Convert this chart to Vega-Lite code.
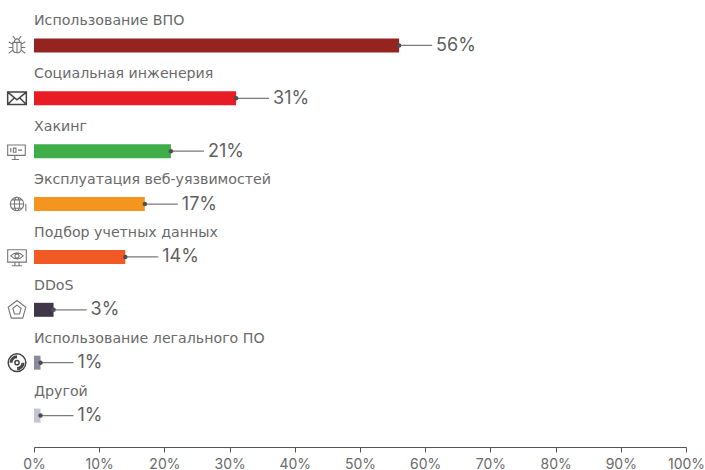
{
"$schema":"https://vega.github.io/schema/vega-lite/v6.json",
"width":652,"height":428,
"autosize":"none",
"padding":{"left":34,"top":19,"right":19,"bottom":23},
"background":"white",
"view":{"stroke":null},
"data":{"values":[
{"cat":"Использование ВПО","pct":56,"label":"56%","color":"#952420","icon":"bug"},
{"cat":"Социальная инженерия","pct":31,"label":"31%","color":"#e81c24","icon":"mail"},
{"cat":"Хакинг","pct":21,"label":"21%","color":"#3fae49","icon":"screen"},
{"cat":"Эксплуатация веб-уязвимостей","pct":17,"label":"17%","color":"#f3951f","icon":"globe"},
{"cat":"Подбор учетных данных","pct":14,"label":"14%","color":"#f15a24","icon":"eye"},
{"cat":"DDoS","pct":3,"label":"3%","color":"#40364a","icon":"penta"},
{"cat":"Использование легального ПО","pct":1,"label":"1%","color":"#8a8a9e","icon":"disc"},
{"cat":"Другой","pct":1,"label":"1%","color":"#c5c5d2","icon":"none"}
]},
"encoding":{
"y":{"field":"cat","type":"nominal","sort":null,"axis":null,"scale":{"type":"band","range":[0,423],"paddingInner":0,"paddingOuter":0}}
},
"layer":[
{"mark":{"type":"bar","height":14},
"encoding":{
"x":{"field":"pct","type":"quantitative","scale":{"domain":[0,100],"nice":false},
"axis":{"title":null,"values":[0,5,10,15,20,25,30,35,40,45,50,55,60,65,70,75,80,85,90,95,100],
"labelExpr":"datum.value%10==0?datum.value+'%':''","labelFont":"Inter","labelFontSize":14,"labelColor":"#6a6a6a","labelPadding":5,"labelBaseline":"top","tickColor":"#555555","tickSize":5,"tickWidth":1,"domainColor":"#555555","domainWidth":1,"grid":false,"labelFlush":false,
"encode":{"ticks":{"update":{"y":{"signal":"datum.value%10==0?-4:-2"},"y2":{"signal":"datum.value%10==0?4:2"}}}}}},
"color":{"field":"color","type":"nominal","scale":null}
}},
{"mark":{"type":"rule","color":"#7a7a7a","strokeWidth":1.3,"x2Offset":33},
"encoding":{"x":{"field":"pct","type":"quantitative"},"x2":{"field":"pct"}}},
{"mark":{"type":"point","filled":true,"color":"#4d4d55","size":20,"opacity":1},
"encoding":{"x":{"field":"pct","type":"quantitative"}}},
{"mark":{"type":"text","align":"left","baseline":"middle","dx":37,"dy":0.5,"font":"Inter","fontSize":18,"color":"#5f5f5f"},
"encoding":{"x":{"field":"pct","type":"quantitative"},"text":{"field":"label"}}},
{"mark":{"type":"text","align":"left","baseline":"middle","dy":-24,"font":"DejaVu Sans","fontSize":14.2,"color":"#6a6a6a"},
"encoding":{"x":{"datum":0},"text":{"field":"cat"}}},
{"transform":[{"filter":"datum.icon!='none'"}],
"mark":{"type":"point","filled":false,"size":430,"opacity":1,"xOffset":-17},
"encoding":{"x":{"datum":0},
"stroke":{"condition":{"test":"datum.icon=='mail'||datum.icon=='disc'","value":"#444444"},"value":"#777777"},
"strokeWidth":{"condition":{"test":"datum.icon=='mail'||datum.icon=='disc'","value":1.5},"value":1.1},
"shape":{"field":"icon","type":"nominal","legend":null,"scale":{
"domain":["bug","mail","screen","globe","eye","penta","disc"],
"range":[
"M-0.25,-0.3 C-0.25,-0.75 0.25,-0.75 0.25,-0.3 Z M-0.4,-0.3 L0.4,-0.3 L0.4,0.4 C0.4,0.8 -0.4,0.8 -0.4,0.4 Z M0,-0.3 L0,0.7 M-0.4,-0.1 L-0.8,-0.35 M0.4,-0.1 L0.8,-0.35 M-0.4,0.2 L-0.8,0.2 M0.4,0.2 L0.8,0.2 M-0.4,0.45 L-0.8,0.75 M0.4,0.45 L0.8,0.75 M-0.2,-0.65 L-0.4,-0.9 M0.2,-0.65 L0.4,-0.9",
"M-0.9,-0.6 L0.9,-0.6 L0.9,0.6 L-0.9,0.6 Z M-0.9,-0.6 L0,0.15 L0.9,-0.6 M-0.9,0.6 L-0.25,-0.05 M0.9,0.6 L0.25,-0.05",
"M-0.9,-0.6 L0.8,-0.6 L0.8,0.4 L-0.9,0.4 Z M-0.2,0.4 L-0.2,0.8 M-0.5,0.8 L0.2,0.8 M-0.6,-0.3 L-0.6,0.1 M-0.35,-0.3 L-0.1,-0.3 L-0.1,0.1 L-0.35,0.1 Z M0.1,-0.1 L0.5,-0.1",
"M-0.65,0 A0.65,0.65 0 1 1 0.65,0 A0.65,0.65 0 1 1 -0.65,0 M-0.25,0 A0.25,0.65 0 1 1 0.25,0 A0.25,0.65 0 1 1 -0.25,0 M-0.65,0 L0.65,0 M0.85,0.7 L0.85,0 M-0.5,-0.4 L0.5,-0.4 M-0.5,0.4 L0.5,0.4",
"M-0.9,-0.7 L0.9,-0.7 L0.9,0.5 L-0.9,0.5 Z M-0.2,0.5 L-0.2,0.85 M0.2,0.5 L0.2,0.85 M-0.5,0.85 L0.5,0.85 M-0.6,-0.1 Q0,-0.7 0.6,-0.1 Q0,0.5 -0.6,-0.1 Z M-0.2,-0.1 A0.2,0.2 0 1 1 0.2,-0.1 A0.2,0.2 0 1 1 -0.2,-0.1",
"M0,-0.9 L0.85,-0.25 L0.55,0.8 L-0.55,0.8 L-0.85,-0.25 Z M0,-0.45 L0.4,-0.15 L0.25,0.4 L-0.25,0.4 L-0.4,-0.15 Z",
"M-0.85,0 A0.85,0.85 0 1 1 0.85,0 A0.85,0.85 0 1 1 -0.85,0 M-0.2,0 A0.2,0.2 0 1 1 0.2,0 A0.2,0.2 0 1 1 -0.2,0 M-0.5,0 A0.5,0.5 0 0 1 0,-0.5 M-0.65,0 A0.65,0.65 0 0 1 0,-0.65 M0.5,0 A0.5,0.5 0 0 1 0,0.5 M0.65,0 A0.65,0.65 0 0 1 0,0.65"
]}}
}}
]
}
